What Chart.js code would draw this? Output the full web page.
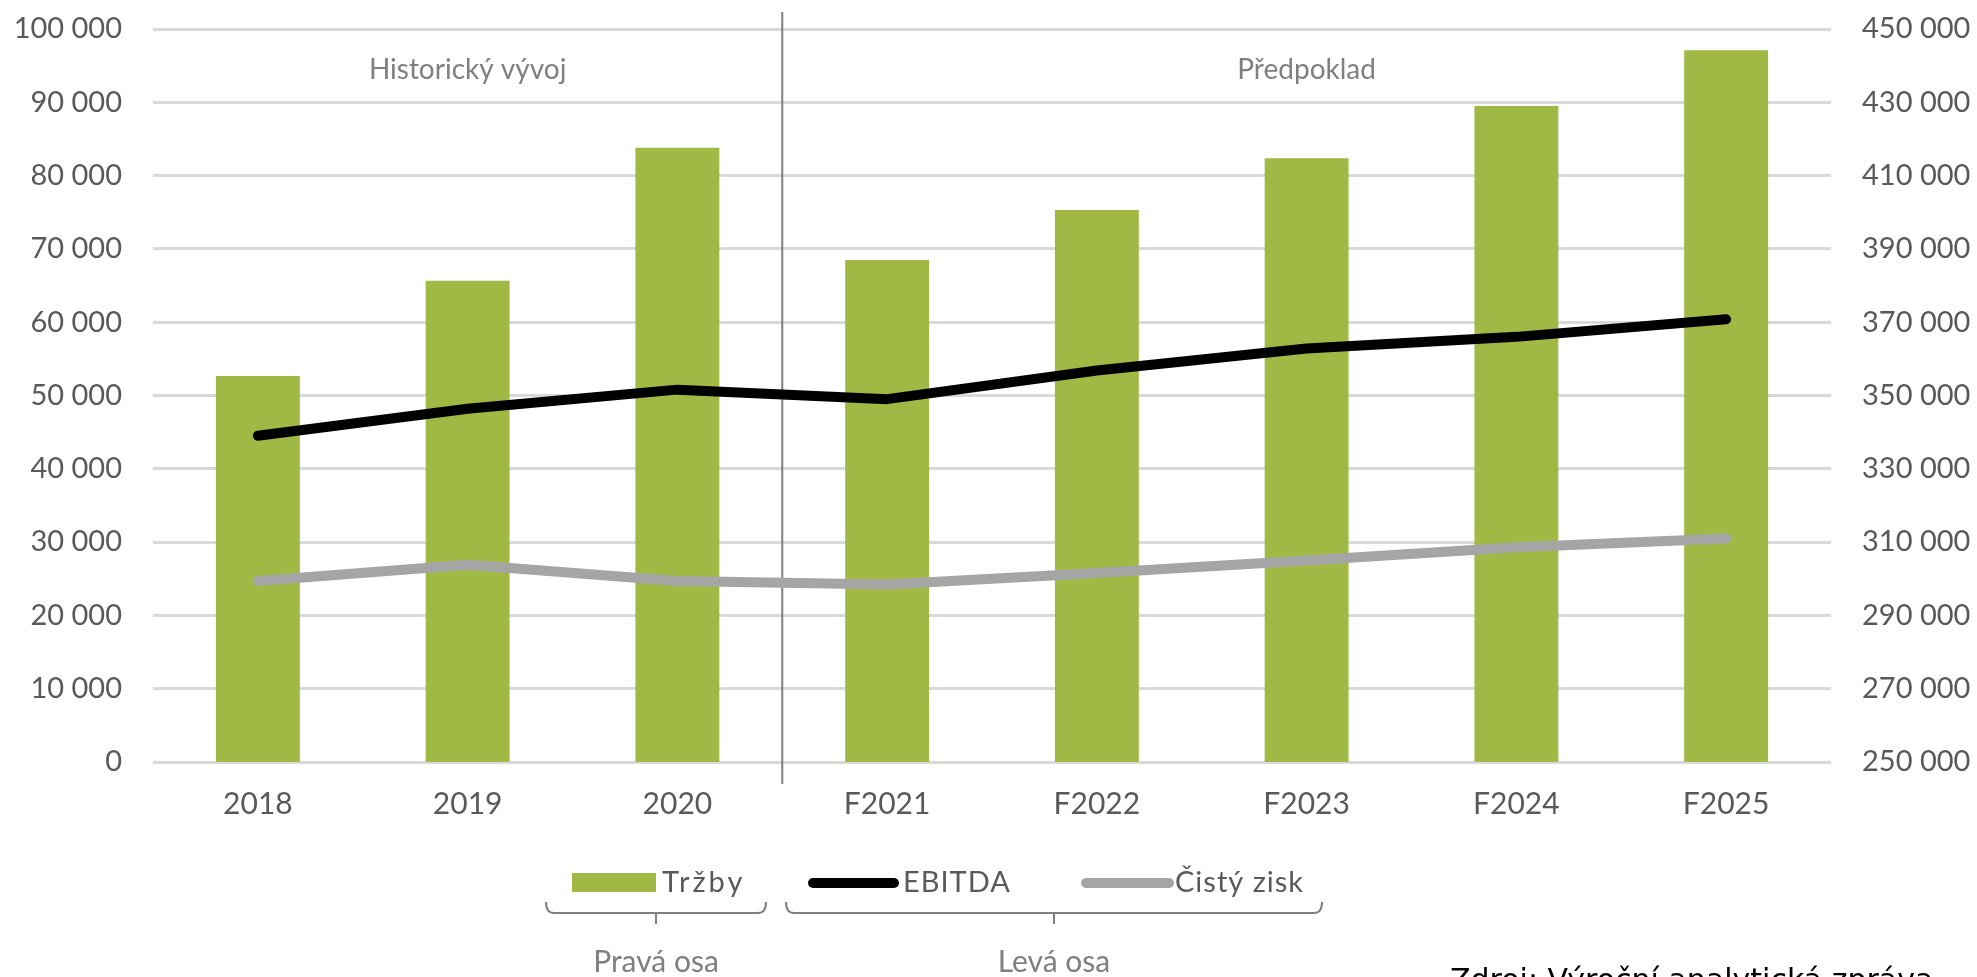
<!DOCTYPE html>
<html>
<head>
<meta charset="utf-8">
<script src="https://cdn.jsdelivr.net/npm/chart.js@4/dist/chart.umd.min.js"></script>
<style>
  html, body { margin: 0; padding: 0; background: #ffffff; }
  #chart { display: block; }
</style>
</head>
<body>
<canvas id="chart" width="1977" height="977"></canvas>
<script>
// data
const categories = ["2018", "2019", "2020", "F2021", "F2022", "F2023", "F2024", "F2025"];
const trzby = [355300, 381300, 417600, 387000, 400600, 414700, 429000, 444200];   // right axis
const ebitda = [44500, 48200, 50800, 49500, 53400, 56400, 58000, 60400];          // left axis
const cistyZisk = [24700, 26900, 24700, 24200, 25800, 27500, 29300, 30500];       // left axis
const groupLabels = ["Historický vývoj", "Předpoklad"];
const groupStart = [0, 3];
const groupEnd = [2, 7];
const axisNotes = ["Pravá osa", "Levá osa"];
const sourceText = "Zdroj: Výroční analytická zpráva";

const FONT = "Lato, 'Open Sans', sans-serif";

function fmt(v) {
  return String(v).replace(/\B(?=(\d{3})+(?!\d))/g, " ");
}

// divider + group titles over the plot
const groupsPlugin = {
  id: "groups",
  beforeDatasetsDraw(chart) {
    const ctx = chart.ctx;
    const x = chart.scales.x;
    const divX = (x.getPixelForValue(groupEnd[0]) + x.getPixelForValue(groupStart[1])) / 2;

    ctx.save();
    ctx.strokeStyle = "#7f7f7f";
    ctx.lineWidth = 2;
    ctx.beginPath();
    ctx.moveTo(divX, 12);
    ctx.lineTo(divX, chart.chartArea.bottom + 22);
    ctx.stroke();

    ctx.fillStyle = "#7f7f7f";
    ctx.font = "28px " + FONT;
    ctx.textAlign = "center";
    ctx.textBaseline = "middle";
    groupLabels.forEach((label, i) => {
      const cx = (x.getPixelForValue(groupStart[i]) + x.getPixelForValue(groupEnd[i])) / 2;
      ctx.fillText(label, cx, 70);
    });
    ctx.restore();
  }
};

// legend with axis brackets below the chart
const legendPlugin = {
  id: "customLegend",
  afterDraw(chart) {
    const ctx = chart.ctx;
    const ds = chart.data.datasets;
    const y = 883;
    ctx.save();
    ctx.font = "29px " + FONT;
    ctx.textBaseline = "middle";
    ctx.textAlign = "left";

    // Tržby box
    ctx.fillStyle = ds[0].backgroundColor;
    ctx.fillRect(572, 873, 84, 19);
    ctx.fillStyle = "#595959";
    ctx.letterSpacing = "3px";
    ctx.fillText(ds[0].label, 662, y);
    ctx.letterSpacing = "1px";

    // line entries
    const items = [[ds[1], 813, 894, 903], [ds[2], 1086, 1169, 1175]];
    items.forEach(([d, x0, x1, tx]) => {
      ctx.strokeStyle = d.borderColor;
      ctx.lineWidth = 10;
      ctx.lineCap = "round";
      ctx.beginPath();
      ctx.moveTo(x0, y);
      ctx.lineTo(x1, y);
      ctx.stroke();
      ctx.fillStyle = "#595959";
      ctx.fillText(d.label, tx, y);
    });
    ctx.letterSpacing = "0px";

    // brackets
    ctx.strokeStyle = "#7f7f7f";
    ctx.lineWidth = 2;
    ctx.lineCap = "butt";
    const brackets = [[546, 766, 656], [786, 1322, 1054]];
    brackets.forEach(([a, b, m], i) => {
      ctx.beginPath();
      ctx.moveTo(a, 902);
      ctx.quadraticCurveTo(a, 913, a + 8, 913);
      ctx.lineTo(b - 8, 913);
      ctx.quadraticCurveTo(b, 913, b, 902);
      ctx.moveTo(m, 913);
      ctx.lineTo(m, 924);
      ctx.stroke();
      ctx.fillStyle = "#7f7f7f";
      ctx.font = "30px " + FONT;
      ctx.textAlign = "center";
      ctx.fillText(axisNotes[i], m, 962);
    });

    // source note, cut by the bottom edge
    ctx.fillStyle = "#000000";
    ctx.font = "30px 'DejaVu Sans', sans-serif";
    ctx.textAlign = "left";
    ctx.textBaseline = "alphabetic";
    ctx.fillText(sourceText, 1450, 990);
    ctx.restore();
  }
};

function fixY(width) {
  return function (scale) {
    scale.width = width;
    scale.paddingTop = 0;
    scale.paddingBottom = 0;
  };
}

new Chart(document.getElementById("chart"), {
  type: "bar",
  data: {
    labels: categories,
    datasets: [
      {
        type: "bar",
        label: "Tržby",
        data: trzby,
        yAxisID: "y1",
        backgroundColor: "#a0b945",
        categoryPercentage: 1,
        barPercentage: 0.4,
        order: 2
      },
      {
        type: "line",
        label: "EBITDA",
        data: ebitda,
        yAxisID: "y",
        borderColor: "#000000",
        backgroundColor: "#000000",
        borderWidth: 10,
        borderCapStyle: "round",
        borderJoinStyle: "round",
        pointRadius: 0,
        tension: 0,
        order: 1
      },
      {
        type: "line",
        label: "Čistý zisk",
        data: cistyZisk,
        yAxisID: "y",
        borderColor: "#a5a5a5",
        backgroundColor: "#a5a5a5",
        borderWidth: 10,
        borderCapStyle: "round",
        borderJoinStyle: "round",
        pointRadius: 0,
        tension: 0,
        order: 1
      }
    ]
  },
  options: {
    responsive: false,
    animation: false,
    layout: { padding: { top: 29, left: 0, right: 0, bottom: 0 } },
    plugins: {
      legend: { display: false },
      tooltip: { enabled: false }
    },
    scales: {
      x: {
        grid: { display: false, drawTicks: false },
        border: { display: false },
        ticks: {
          color: "#595959",
          font: { family: FONT, size: 30 },
          padding: 24,
          maxRotation: 0
        },
        afterFit(scale) { scale.height = 215; }
      },
      y: {
        position: "left",
        min: 0,
        max: 100000,
        grid: { color: "#d9d9d9", lineWidth: 3, drawTicks: false },
        border: { display: false },
        ticks: {
          stepSize: 10000,
          color: "#595959",
          font: { family: FONT, size: 29 },
          padding: 31,
          callback: (v) => fmt(v)
        },
        afterFit: fixY(153)
      },
      y1: {
        position: "right",
        min: 250000,
        max: 450000,
        grid: { display: false, drawTicks: false },
        border: { display: false },
        ticks: {
          stepSize: 20000,
          color: "#595959",
          font: { family: FONT, size: 29 },
          padding: 31,
          callback: (v) => fmt(v)
        },
        afterFit: fixY(146)
      }
    }
  },
  plugins: [groupsPlugin, legendPlugin]
});
</script>
</body>
</html>
